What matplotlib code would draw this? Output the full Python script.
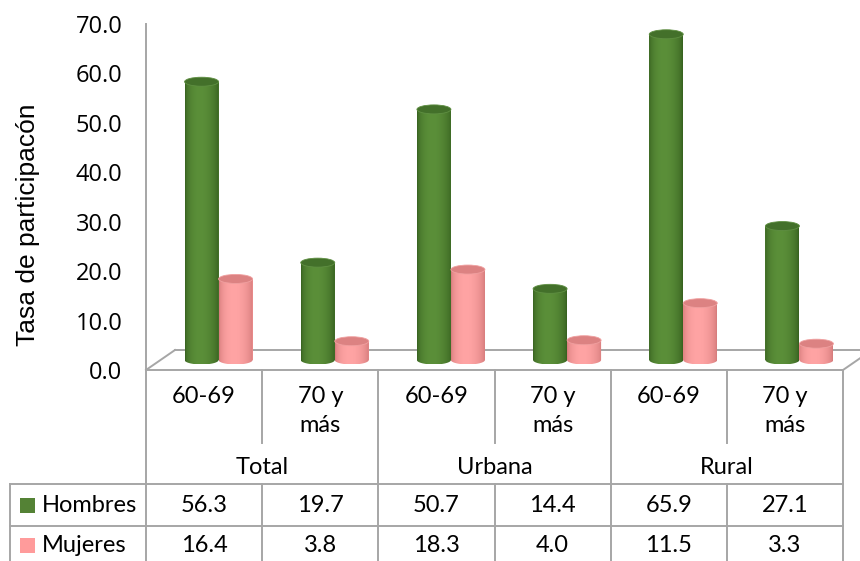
import numpy as np
import matplotlib
matplotlib.use("Agg")
import matplotlib.pyplot as plt
from matplotlib.patches import Ellipse, PathPatch, Rectangle
from matplotlib.path import Path
from matplotlib.colors import to_rgb

# ---------------- data ----------------
groups = ["Total", "Urbana", "Rural"]
age_labels = ["60-69", "70 y\nmás", "60-69", "70 y\nmás", "60-69", "70 y\nmás"]
series_names = ["Hombres", "Mujeres"]
hombres = [56.3, 19.7, 50.7, 14.4, 65.9, 27.1]
mujeres = [16.4, 3.8, 18.3, 4.0, 11.5, 3.3]
y_ticks = [0, 10, 20, 30, 40, 50, 60, 70]
y_label = "Tasa de participacón"

# ---------------- style ----------------
W, H = 860, 561
left_px, right_px, zero_px, top_px = 146, 843, 370, 24
line_col = "#a6a6a6"
series_cols = ["#548235", "#ff9b9b"]
edge_dark = ["#36601f", "#d47a7a"]
center_light = ["#5b8f39", "#ffa4a4"]
top_cols = ["#43702a", "#dc8282"]
rim_cols = ["#5f8f42", "#f0a0a0"]
tick_font = "Open Sans"
table_font = "Lato"

fig = plt.figure(figsize=(W / 100, H / 100), dpi=100)
ax = fig.add_axes([left_px / W, 1 - zero_px / H,
                   (right_px - left_px) / W, (zero_px - top_px) / H])
n = len(hombres)
xmax, ymax = n, y_ticks[-1]
px_per_x = (right_px - left_px) / xmax
px_per_y = (zero_px - top_px) / ymax

depth_dx = 29 / px_per_x
depth_dy = 20 / px_per_y
base = depth_dy / 2
shift = depth_dx / 2
bar_w = 34 / px_per_x
ell_h = 9 / px_per_y

# floor / axis lines
ax.plot([0, 0], [0, ymax], color=line_col, lw=1.4, clip_on=False, zorder=1)
ax.plot([0, xmax], [0, 0], color=line_col, lw=1.4, clip_on=False, zorder=1)
ax.plot([0, depth_dx], [0, depth_dy], color=line_col, lw=1.4, clip_on=False, zorder=1)
ax.plot([depth_dx, xmax + depth_dx], [depth_dy, depth_dy], color=line_col, lw=1.4,
        clip_on=False, zorder=1)
ax.plot([xmax, xmax + depth_dx], [0, depth_dy], color=line_col, lw=1.4,
        clip_on=False, zorder=1)


def gradient_colors(s, m=64):
    t = np.linspace(0, 1, m)
    dark = np.array(to_rgb(edge_dark[s]))
    light = np.array(to_rgb(center_light[s]))
    prof = np.clip(np.sin(np.pi * (t ** 0.85)), 0, 1) ** 0.6
    cols = dark[None, :] + (light - dark)[None, :] * prof[:, None]
    return cols[None, :, :]


for s, vals in enumerate([hombres, mujeres]):
    xs = np.arange(n) + 0.5 + shift + (s - 0.5) * bar_w
    ax.bar(xs, vals, width=bar_w, bottom=base, color=series_cols[s],
           zorder=3 + s, linewidth=0)
    for xc, v in zip(xs, vals):
        xl, xr = xc - bar_w / 2, xc + bar_w / 2
        top = base + v
        th = np.linspace(np.pi, 2 * np.pi, 40)
        verts = [(xl, top), (xl, base)]
        verts += list(zip(xc + bar_w / 2 * np.cos(th), base + ell_h / 2 * np.sin(th)))
        verts += [(xr, top), (xl, top)]
        codes = [Path.MOVETO] + [Path.LINETO] * (len(verts) - 2) + [Path.CLOSEPOLY]
        clip = PathPatch(Path(verts, codes), facecolor="none", edgecolor="none",
                         transform=ax.transData)
        ax.add_patch(clip)
        im = ax.imshow(gradient_colors(s), extent=(xl, xr, base - ell_h / 2, top),
                       aspect="auto", zorder=3 + s, interpolation="bilinear")
        im.set_clip_path(clip)
        ax.add_patch(Ellipse((xc, top), bar_w, ell_h, facecolor=top_cols[s],
                             edgecolor=rim_cols[s], lw=0.6, zorder=3.5 + s))

ax.set_xlim(0, xmax)
ax.set_ylim(0, ymax)
ax.set_xticks([])
ax.set_yticks(y_ticks)
ax.set_yticklabels([f"{t:.1f}" for t in y_ticks], fontfamily=tick_font, fontsize=17)
ax.tick_params(axis="y", length=0, pad=17)
for sp in ax.spines.values():
    sp.set_visible(False)
ax.patch.set_alpha(0)

fig.text(28 / W, 1 - 225 / H, y_label, rotation=90, ha="center", va="center",
         fontfamily="Liberation Sans", fontsize=19)

# ---------------- data table ----------------
tax = fig.add_axes([left_px / W, 0, (right_px - left_px) / W, (H - zero_px) / H])
tax.set_xlim(0, xmax)
tax.set_ylim(H, zero_px)
tax.axis("off")
leg_left = (10 - left_px) / px_per_x
kw = dict(color=line_col, lw=1.4, clip_on=False)
for gx in range(0, n + 1, 2):
    tax.plot([gx, gx], [zero_px, H + 5], **kw)
for ix in range(1, n, 2):
    tax.plot([ix, ix], [zero_px, 443], **kw)
    tax.plot([ix, ix], [484, H + 5], **kw)
for hy in [484, 526]:
    tax.plot([leg_left, xmax], [hy, hy], **kw)
tax.plot([leg_left, leg_left], [484, H + 5], **kw)

for i, lab in enumerate(age_labels):
    tax.text(i + 0.5, 386, lab, ha="center", va="top", fontfamily=table_font,
             fontsize=17, linespacing=1.5)
for g, name in enumerate(groups):
    tax.text(2 * g + 1, 468, name, ha="center", va="center", fontfamily=table_font,
             fontsize=17)
row_y = [505, 545]
for s, vals in enumerate([hombres, mujeres]):
    for i, v in enumerate(vals):
        tax.text(i + 0.5, row_y[s], f"{v:.1f}", ha="center", va="center",
                 fontfamily=table_font, fontsize=17)
    tax.add_patch(Rectangle(((20 - left_px) / px_per_x, row_y[s] - 7.5),
                            15 / px_per_x, 15, facecolor=series_cols[s],
                            edgecolor="none", clip_on=False))
    tax.text((42 - left_px) / px_per_x, row_y[s], series_names[s], ha="left",
             va="center", fontfamily=table_font, fontsize=17)

fig.savefig("out.png", dpi=100)
